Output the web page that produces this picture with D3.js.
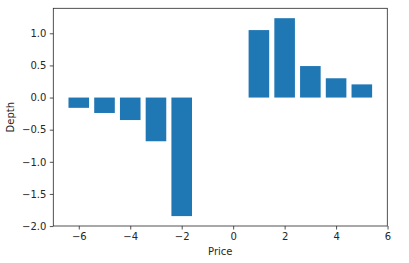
<!DOCTYPE html>
<html>
<head>
<meta charset="utf-8">
<script src="https://cdn.jsdelivr.net/npm/d3@7"></script>
<style>
  body { margin: 0; background: #fff; }
  text { font-family: "DejaVu Sans", sans-serif; fill: #262626; }
  .tick text { font-size: 10px; }
</style>
</head>
<body>
<div id="chart"></div>
<script>
const prices = [-6, -5, -4, -3, -2, 1, 2, 3, 4, 5];
const depths = [-0.16, -0.24, -0.35, -0.68, -1.845, 1.05, 1.235, 0.49, 0.30, 0.205];
const xTicks = [-6, -4, -2, 0, 2, 4, 6];
const yTicks = [-2.0, -1.5, -1.0, -0.5, 0.0, 0.5, 1.0];

const data = prices.map((p, i) => ({ price: p, depth: depths[i] }));

const width = 409, height = 263,
    margin = ({ top: 8.3, right: 21.7, bottom: 37, left: 53.3 });

let svg = d3.select("#chart")
    .append("svg")
    .attr("width", width)
    .attr("height", height);

let x = d3.scaleLinear()
    .domain([-6.99, 5.99])
    .range([margin.left, width - margin.right]);

let y = d3.scaleLinear()
    .domain([-1.999, 1.389])
    .range([height - margin.bottom, margin.top]);

const barW = 0.8;

svg.selectAll(".bar")
    .data(data)
    .join("rect")
    .attr("class", "bar")
    .attr("fill", "#1f77b4")
    .attr("x", d => x(d.price - barW / 2))
    .attr("width", x(barW) - x(0))
    .attr("y", d => y(Math.max(0, d.depth)))
    .attr("height", d => Math.abs(y(d.depth) - y(0)));

// axes
let xAxis = svg.append("g")
    .attr("transform", `translate(0,${height - margin.bottom})`)
    .call(d3.axisBottom(x).tickValues(xTicks).tickSize(3.5).tickPadding(3.5)
        .tickFormat(d => d3.format("d")(d).replace("-", "\u2212")));

let yAxis = svg.append("g")
    .attr("transform", `translate(${margin.left},0)`)
    .call(d3.axisLeft(y).tickValues(yTicks).tickSize(3.5).tickPadding(3.5)
        .tickFormat(d => d3.format(".1f")(d).replace("-", "\u2212")));

[xAxis, yAxis].forEach(g => {
    g.select(".domain").remove();
    g.selectAll(".tick line").attr("stroke", "#262626").attr("stroke-width", 0.8);
    g.selectAll(".tick text").attr("fill", "#262626");
});

// frame
svg.append("rect")
    .attr("x", margin.left)
    .attr("y", margin.top)
    .attr("width", width - margin.left - margin.right)
    .attr("height", height - margin.top - margin.bottom)
    .attr("fill", "none")
    .attr("stroke", "#262626")
    .attr("stroke-width", 0.8);

svg.append("text")
    .attr("text-anchor", "middle")
    .attr("x", (margin.left + width - margin.right) / 2)
    .attr("y", 255)
    .style("font-size", "10px")
    .text("Price");

svg.append("text")
    .attr("text-anchor", "middle")
    .attr("transform", `translate(13.5,${(margin.top + height - margin.bottom) / 2}) rotate(-90)`)
    .style("font-size", "10px")
    .text("Depth");
</script>
</body>
</html>
